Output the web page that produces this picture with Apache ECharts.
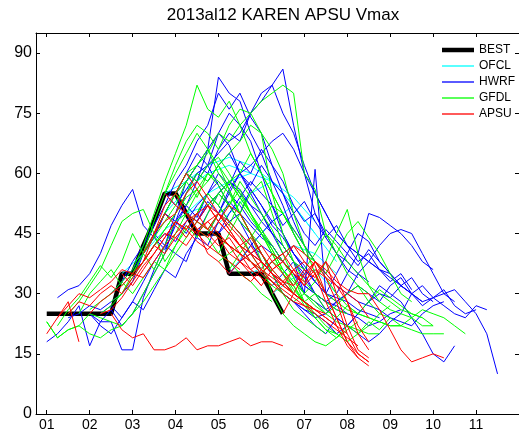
<!DOCTYPE html>
<html><head><meta charset="utf-8">
<script src="https://cdn.jsdelivr.net/npm/echarts@6/dist/echarts.min.js"></script>
<style>html,body{margin:0;padding:0;background:#fff}#c{width:519px;height:438px}</style>
</head><body><div id="c"></div>
<script>
const titleText = '2013al12 KAREN APSU Vmax';
const xTicks = [1,2,3,4,5,6,7,8,9,10,11];
const xTickLabels = ['01','02','03','04','05','06','07','08','09','10','11'];
const yTicks = [0,15,30,45,60,75,90];
const legendNames = ['BEST','OFCL','HWRF','GFDL','APSU'];

// BEST track, 6-hourly from day 1.0
const bestStart = 1.0;
const bestStep = 0.25;
const bestVmax = [25,25,25,25,25,25,25,35,35,42,48,55,55,50,45,45,45,35,35,35,35,30,25];

// OFCL runs: [init day, values every 12 h]
const ofclStep = 0.5;
const ofclRuns = [
  [2.75,[35,40,46,50,52]],
  [3.25,[40,50,56,60,62,60]],
  [3.75,[55,58,62,64,62,58,52]],
  [4.25,[50,55,58,60,58,54,48]],
  [4.75,[45,50,55,58,52,45]],
  [5.25,[35,42,48,52,45,38]],
  [5.75,[35,38,42,40,35]],
  [6.25,[30,34,36,30]]
];

// HWRF runs: [init day, values every 6 h]
const hwrfStep = 0.25;
const hwrfRuns = [
  [1.0,[18,20,23,27,17,23,23,16,16,29,36,42,48,45,50,55,52,48,45,42,40]],
  [1.25,[29,31,32,35,40,47,52,56,47,44,50,55,60,58,62,57,52,48,43,38,35]],
  [1.5,[24,25,27,26,28,30,33,40,45,42,50,58,62,66,70,67,60,55,50,45,40]],
  [2.0,[25,23,26,22,25,30,35,40,48,52,58,66,84,80,78,70,65,58,52,45,40]],
  [2.0,[25,22,20,24,28,33,38,42,40,38,45,50,55,52,48,45,40,35,33,30,28]],
  [2.25,[25,27,24,28,26,31,36,34,40,44,42,48,53,50,56,52,47,44,40,37,33]],
  [2.5,[30,33,38,42,47,52,58,62,68,72,80,76,80,74,70,62,55,48,42,38,35]],
  [2.75,[33,36,40,44,50,55,60,65,62,70,75,72,68,60,52,45,40,36,33,30,28]],
  [3.0,[35,38,42,45,43,48,52,55,58,55,52,48,45,42,38,35,32,30,28,27,25]],
  [3.25,[40,44,41,47,52,49,55,60,57,63,60,66,62,58,52,48,50,44,40,36,34]],
  [3.5,[45,50,48,55,60,62,65,68,70,75,78,82,86,72,60,50,45,40,38,35,33]],
  [3.75,[55,52,56,60,58,62,65,60,56,52,48,45,40,36,33,30,29,28,26,25,24]],
  [4.0,[55,58,62,60,66,70,68,75,80,82,75,70,62,55,50,45,42,40,38,36,35]],
  [4.25,[50,48,52,55,58,56,52,48,45,42,38,35,30,28,26,25,24,22,23,25,26]],
  [4.5,[48,52,55,58,55,52,50,45,42,38,30,61,30,35,40,45,43,38,35,32,30]],
  [4.5,[48,53,50,56,60,57,62,58,55,50,53,48,44,47,42,38,40,36,33,35,31]],
  [4.75,[45,50,55,60,62,65,68,70,66,60,55,50,45,42,40,38,36,34,32,30,28]],
  [5.0,[45,48,50,47,44,42,38,35,32,30,28,30,35,40,50,49,47,45,42,38,36]],
  [5.0,[45,50,54,58,55,52,47,50,45,42,46,43,40,37,41,38,35,32,34,30,28]],
  [5.25,[35,38,42,45,48,50,46,42,38,35,32,30,28,27,26,24,23,22,25,27,28]],
  [5.5,[38,40,42,40,38,35,30,28,26,28,30,35,38,42,45,46,45,40,35,30,28]],
  [5.75,[40,38,35,30,28,25,22,20,24,22,25,28,32,30,28,24,20,15,13,17]],
  [6.0,[35,33,30,28,26,24,25,28,30,32,30,28,32,34,30,28,29,31,27,25,26]],
  [6.25,[32,35,38,34,30,26,24,22,20,18,20,23,25,30,32,29,27,25,24,27,26]],
  [6.5,[30,28,26,25,23,20,22,25,28,30,29,32,30,27,29,30,31,28,25,20,10]]
];

// GFDL runs
const gfdlStep = 0.25;
const gfdlRuns = [
  [1.0,[23,19,21,22,25,24,23,22,25,30,35,40,45,50,48,46,50,52,48,45,42]],
  [1.0,[23,19,21,22,20,19,21,22,25,28,32,36,40,44,48,46,44,42,40,38,36]],
  [1.25,[22,26,29,33,37,34,38,45,40,36,42,48,50,46,44,40,38,35,33,30,28]],
  [1.5,[25,28,32,36,42,48,50,51,45,38,42,46,50,55,52,48,45,40,36,33,30]],
  [1.75,[25,30,33,36,32,35,40,44,48,52,58,62,66,60,56,50,45,40,36,33,30]],
  [2.0,[26,28,30,33,36,42,50,58,65,72,82,76,74,78,72,65,60,55,50,45,40]],
  [2.25,[25,27,30,34,38,42,46,50,54,56,52,55,58,54,50,45,40,35,31,28,26]],
  [2.5,[28,30,35,38,42,46,50,55,60,58,62,56,50,45,40,35,30,26,24,22,20]],
  [2.75,[33,30,34,38,36,42,47,44,50,55,52,58,54,50,46,40,34,28,24,21,20]],
  [3.0,[35,40,48,55,62,68,72,70,66,72,76,75,70,55,45,38,33,30,28,26,25]],
  [3.25,[40,45,50,55,52,56,60,58,55,50,45,38,30,25,22,20,18,17,19,21,23]],
  [3.5,[45,50,55,60,62,65,70,68,72,75,78,80,82,80,60,56,45,40,35,32,30]],
  [3.75,[55,60,65,70,66,62,58,54,50,46,42,38,34,30,27,25,23,22,21,20,20]],
  [4.0,[55,60,58,62,64,60,55,50,45,40,35,30,28,25,22,20,18,20,22,25,27]],
  [4.0,[55,58,54,60,57,52,56,50,46,41,36,32,27,24,21,19,22,20,23,21,24]],
  [4.25,[50,55,58,62,65,68,72,70,66,60,50,42,35,30,28,26,25,24,23,22,22]],
  [4.5,[50,55,52,58,60,65,60,55,50,45,40,38,35,40,45,48,44,40,35,30,28]],
  [4.75,[45,50,47,53,49,45,41,36,32,28,30,26,24,27,25,28,31,29,27,25,24]],
  [5.0,[40,45,50,55,58,50,42,38,36,40,45,42,38,35,32,30,28,26,25,24,22]],
  [5.0,[38,40,42,38,35,32,30,28,30,33,38,45,51,40,32,28,26,25,24,22,22]],
  [5.25,[36,40,44,48,52,50,46,42,38,34,30,27,25,24,23,22,22,21,20,20,20]],
  [6.0,[35,38,36,33,30,28,25,27,30,32,28,25,24,22,24,26,25,24,22,20]]
];

// APSU runs
const apsuStep = 0.25;
const apsuRuns = [
  [1.0,[20,24,28,18]],
  [1.25,[24,27,30,29,31,33,36,35,38,42,45,44,42,46,40,38,35]],
  [1.5,[25,28,27,30,32,30,34,38,42,40,44,47,45,42,40,38,36]],
  [2.0,[25,28,30,32,35,34,38,42,45,48,50,46,44,40,38,35,32]],
  [2.25,[25,26,29,33,37,40,44,48,46,43,41,44,42,38,36,34,32]],
  [2.5,[25,21,19,20,16,16,17,19,16,17,17,18,19,17,18,18,17]],
  [2.75,[35,32,36,40,44,48,46,50,52,48,45,42,40,38,35,33,32]],
  [3.0,[35,38,45,50,47,44,48,52,50,46,42,38,36,34,32,30,28]],
  [3.25,[40,45,52,55,60,56,52,48,45,42,40,36,33,30,28,27,26]],
  [3.5,[45,48,50,55,58,54,50,47,44,40,38,35,33,30,28,26,25]],
  [3.75,[55,52,50,48,46,50,48,45,42,38,35,32,30,28,26,24,22]],
  [4.0,[55,50,46,44,48,52,50,45,40,36,33,30,28,26,24,22,20]],
  [4.25,[50,46,48,45,42,40,38,35,33,31,29,27,25,23,21,19,17]],
  [4.5,[45,48,50,46,42,44,40,36,38,35,33,36,34,32,30,28,24]],
  [4.75,[45,42,44,40,36,38,35,32,36,34,38,35,32,28,22,18]],
  [5.0,[45,42,40,38,35,38,40,36,32,35,38,34,28,20,16]],
  [5.25,[35,38,40,42,38,35,32,36,34,38,30,22,16,14]],
  [5.5,[35,33,36,40,38,35,32,38,34,28,20,15,13]],
  [5.75,[35,32,36,38,42,38,35,30,24,18,14,12]],
  [6.0,[35,38,40,42,40,37,30,24,18,15,13]],
  [6.25,[30,33,36,38,35,28,22,17,14]],
  [6.5,[25,30,35,38,36,33,31,30,30,26,21,16,13,14,15,14]]
];

function buildRuns(runs, step) {
  const d = [];
  runs.forEach(([t0, vals]) => {
    vals.forEach((v, i) => d.push([t0 + i * step, v]));
    d.push(['-', '-']);
  });
  return d;
}
const bestData = bestVmax.map((v, i) => [bestStart + i * bestStep, v]);

const FONT = '"Liberation Sans", Arial, Helvetica, sans-serif';
const chart = echarts.init(document.getElementById('c'), null, {renderer: 'canvas'});

function lineSeries(name, data, color, width) {
  return {
    name, type: 'line', data, showSymbol: false, symbol: 'none',
    connectNulls: false, silent: true,
    lineStyle: {color, width}, itemStyle: {color},
    emphasis: {disabled: true}
  };
}

const axisCommonX = {
  type: 'value', min: 0.75, max: 12,
  axisLine: {onZero: false, lineStyle: {color: '#000', width: 1}},
  splitLine: {show: false}
};
const axisCommonY = {
  type: 'value', min: 0, max: 95,
  axisLine: {onZero: false, lineStyle: {color: '#000', width: 1}},
  splitLine: {show: false}
};

chart.setOption({
  animation: false,
  backgroundColor: '#fff',
  title: {
    text: titleText, left: 278, top: 2, textAlign: 'center',
    textStyle: {fontFamily: FONT, fontSize: 17, fontWeight: 'normal', color: '#000'}
  },
  grid: {left: 36, top: 33, width: 484, height: 381, containLabel: false},
  legend: {
    orient: 'vertical', left: 437, top: 39,
    itemWidth: 32, itemHeight: 12, itemGap: 4, itemTextGap: 3,
    symbolKeepAspect: true,
    textStyle: {fontFamily: FONT, fontSize: 12, color: '#000'},
    data: legendNames.map(n => ({
      name: n,
      icon: n === 'BEST' ? 'path://M0,0h32v4.5h-32z' : 'path://M0,0h32v1.3h-32z'
    })),
    selectedMode: false
  },
  xAxis: [
    Object.assign({}, axisCommonX, {
      position: 'bottom',
      axisTick: {inside: true, length: 4, customValues: xTicks, lineStyle: {color: '#000'}},
      axisLabel: {customValues: xTicks, margin: 4, fontFamily: FONT, fontSize: 14, color: '#000',
        formatter: v => xTickLabels[xTicks.indexOf(Math.round(v))] || ''}
    }),
    Object.assign({}, axisCommonX, {
      position: 'top',
      axisTick: {inside: true, length: 4, customValues: xTicks, lineStyle: {color: '#000'}},
      axisLabel: {show: false}
    })
  ],
  yAxis: [
    Object.assign({}, axisCommonY, {
      position: 'left',
      axisTick: {inside: true, length: 4, customValues: yTicks, lineStyle: {color: '#000'}},
      axisLabel: {customValues: yTicks, margin: 4, fontFamily: FONT, fontSize: 16, color: '#000'}
    }),
    Object.assign({}, axisCommonY, {
      position: 'right',
      axisTick: {inside: true, length: 4, customValues: yTicks, lineStyle: {color: '#000'}},
      axisLabel: {show: false}
    })
  ],
  series: [
    lineSeries('BEST', bestData, '#000000', 4.5),
    lineSeries('OFCL', buildRuns(ofclRuns, ofclStep), '#00ffff', 1),
    lineSeries('HWRF', buildRuns(hwrfRuns, hwrfStep), '#0000ff', 1),
    lineSeries('GFDL', buildRuns(gfdlRuns, gfdlStep), '#00ff00', 1),
    lineSeries('APSU', buildRuns(apsuRuns, apsuStep), '#ff0000', 1)
  ]
});
</script>
</body></html>
